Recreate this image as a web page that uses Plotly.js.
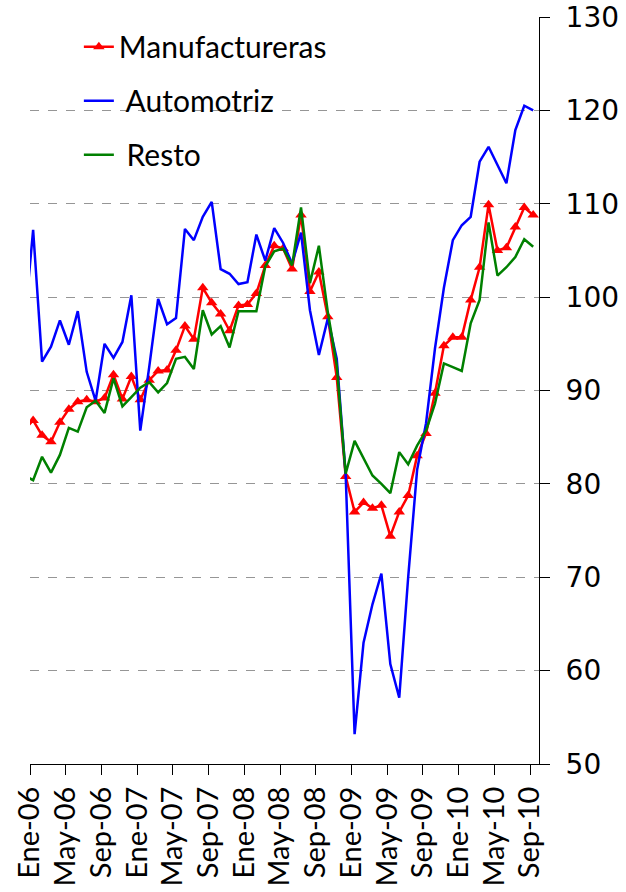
<!DOCTYPE html>
<html>
<head>
<meta charset="utf-8">
<script src="https://cdn.plot.ly/plotly-3.0.1.min.js"></script>
<style>
  html, body { margin: 0; padding: 0; background: #ffffff; }
  #chart { width: 626px; height: 892px; }
</style>
</head>
<body>
<div id="chart"></div>
<script>
// Months (first entry Dic-05 lies just before the axis start and is clipped)
const months = [
  "Dic-05",
  "Ene-06","Feb-06","Mar-06","Abr-06","May-06","Jun-06","Jul-06","Ago-06","Sep-06","Oct-06","Nov-06","Dic-06",
  "Ene-07","Feb-07","Mar-07","Abr-07","May-07","Jun-07","Jul-07","Ago-07","Sep-07","Oct-07","Nov-07","Dic-07",
  "Ene-08","Feb-08","Mar-08","Abr-08","May-08","Jun-08","Jul-08","Ago-08","Sep-08","Oct-08","Nov-08","Dic-08",
  "Ene-09","Feb-09","Mar-09","Abr-09","May-09","Jun-09","Jul-09","Ago-09","Sep-09","Oct-09","Nov-09","Dic-09",
  "Ene-10","Feb-10","Mar-10","Abr-10","May-10","Jun-10","Jul-10","Ago-10","Sep-10"
];

const manufactureras = [
  85.8,
  86.8, 85.2, 84.5, 86.6, 88.0, 88.8, 89.0, 88.8, 89.2, 91.7, 89.1, 91.5,
  89.0, 91.1, 92.1, 92.2, 94.3, 96.9, 95.5, 101.0, 99.4, 98.2, 96.4, 99.1,
  99.2, 100.4, 103.4, 105.5, 105.2, 103.0, 108.8, 100.6, 102.7, 97.9, 91.4, 80.8,
  77.0, 78.0, 77.4, 77.7, 74.4, 77.0, 78.75, 83.0, 85.4, 89.7, 94.8, 95.7,
  95.7, 99.7, 103.2, 109.9, 105.0, 105.3, 107.5, 109.6, 108.8
];

const automotriz = [
  96.7,
  107.2, 93.1, 94.7, 97.5, 94.9, 98.5, 92.0, 88.9, 95.0, 93.5, 95.2, 100.2,
  85.7, 92.5, 99.8, 97.1, 97.75, 107.3, 106.1, 108.6, 110.2, 103.0, 102.5, 101.4,
  101.6, 106.7, 103.9, 107.4, 105.8, 103.6, 106.9, 98.6, 93.8, 97.7, 93.4, 81.0,
  53.2, 63.0, 67.1, 70.4, 60.7, 57.1, 70.0, 81.5, 86.5, 94.5, 101.0, 106.1,
  107.7, 108.6, 114.5, 116.1, 114.2, 112.2, 117.9, 120.5, 120.0
];

const resto = [
  80.9,
  80.4, 82.9, 81.2, 83.1, 86.0, 85.6, 88.2, 88.9, 87.6, 91.3, 88.3, 89.3,
  90.3, 90.9, 89.8, 90.8, 93.4, 93.6, 92.3, 98.6, 96.0, 96.9, 94.6, 98.5,
  98.5, 98.5, 103.3, 104.9, 105.2, 103.4, 109.6, 101.5, 105.5, 98.4, 92.7, 81.1,
  84.6, 82.7, 80.9, 80.0, 79.0, 83.4, 82.1, 84.1, 85.7, 88.6, 92.9, 92.5,
  92.1, 97.2, 99.7, 108.0, 102.3, 103.2, 104.3, 106.2, 105.4
];

const tickLabels = ["Ene-06","May-06","Sep-06","Ene-07","May-07","Sep-07","Ene-08","May-08",
                    "Sep-08","Ene-09","May-09","Sep-09","Ene-10","May-10","Sep-10"];

// month position on the axis: Ene-06 tick = 0; points sit a bit after the month tick
const pointOffset = 0.35;
const xPos = months.map((m, i) => i - 1 + pointOffset);
const tickVals = tickLabels.map((t) => months.indexOf(t) - 1);

const legendFont = { family: "Lato, 'Open Sans', sans-serif", size: 30, color: "#000" };

const traces = [
  {
    x: xPos, y: manufactureras, text: months, name: "Manufactureras",
    type: "scatter", mode: "lines+markers", legendgroup: "a",
    line: { color: "rgb(255,0,0)", width: 2.5 },
    marker: { symbol: "triangle-up", size: 10, color: "rgb(255,0,0)" }
  },
  {
    x: xPos, y: automotriz, text: months, name: "\u00a0Automotriz",
    type: "scatter", mode: "lines", legendgroup: "b",
    line: { color: "rgb(0,0,255)", width: 2.5 }
  },
  {
    x: xPos, y: resto, text: months, name: "\u00a0Resto",
    type: "scatter", mode: "lines", legendgroup: "c",
    line: { color: "rgb(0,128,0)", width: 2.5 }
  }
];

const layout = {
  width: 626, height: 892,
  margin: { l: 30, r: 87, t: 17, b: 128, pad: 0 },
  paper_bgcolor: "#ffffff", plot_bgcolor: "#ffffff",
  showlegend: true,
  legend: {
    x: 0.096, y: 0.995, xanchor: "left", yanchor: "top",
    bgcolor: "rgba(0,0,0,0)", font: legendFont,
    traceorder: "grouped", tracegroupgap: 12
  },
  xaxis: {
    range: [0, 57],
    tickmode: "array", tickvals: tickVals, ticktext: tickLabels,
    tickangle: -90,
    tickfont: { family: "Lato, 'Open Sans', sans-serif", size: 29, color: "#000" },
    ticks: "outside", ticklen: 10, tickcolor: "#000", tickwidth: 1,
    showline: true, linecolor: "#000", linewidth: 1,
    showgrid: false, zeroline: false
  },
  yaxis: {
    range: [50, 130], dtick: 10, tick0: 50,
    side: "right",
    tickfont: { family: "'DejaVu Sans', Verdana, sans-serif", size: 28, color: "#000" },
    ticks: "outside", ticklen: 10, tickcolor: "#000", tickwidth: 1,
    ticklabelstandoff: 10,
    showline: true, linecolor: "#000", linewidth: 1,
    showgrid: true, gridcolor: "rgb(150,150,150)", gridwidth: 1, griddash: "dash",
    zeroline: false
  }
};

Plotly.newPlot("chart", traces, layout, { displayModeBar: false, staticPlot: true });
</script>
</body>
</html>
